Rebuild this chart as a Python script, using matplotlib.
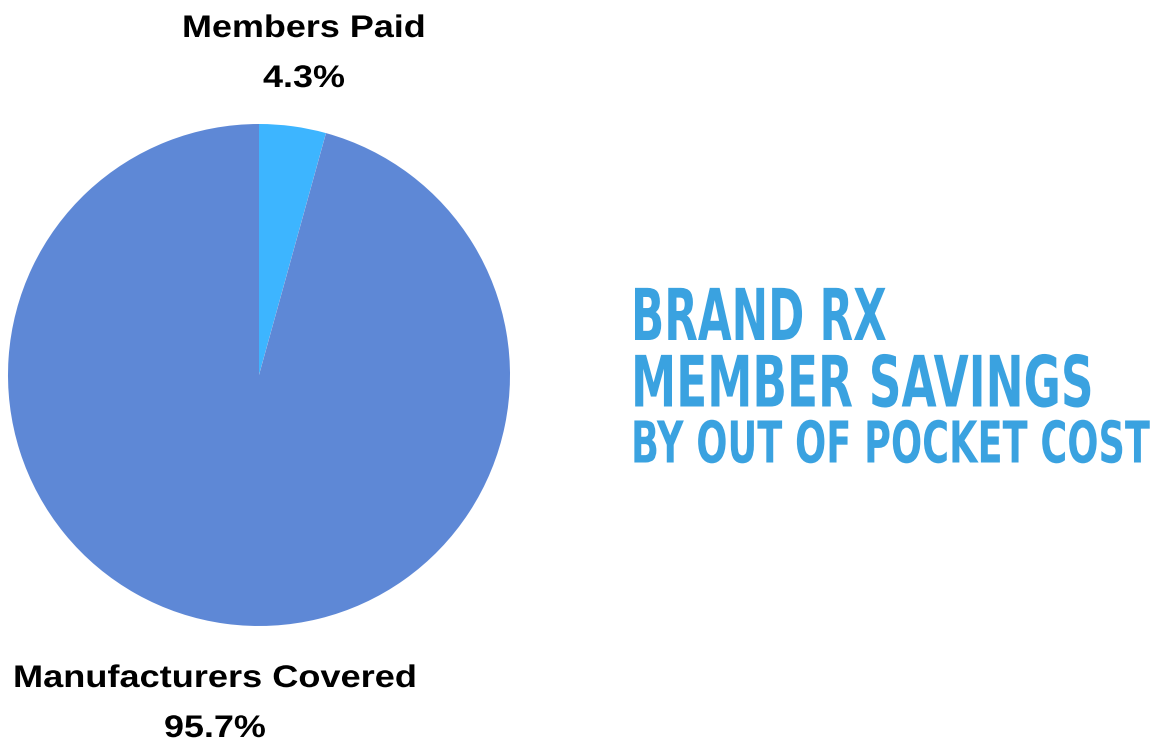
import matplotlib.pyplot as plt
from matplotlib import patheffects
from matplotlib.transforms import Affine2D

# Share of brand Rx out-of-pocket cost
labels = ['Members Paid', 'Manufacturers Covered']
values = [4.3, 95.7]
colors = ['#3db5ff', '#5e88d6']

title_lines = ['BRAND RX', 'MEMBER SAVINGS', 'BY OUT OF POCKET COST']


class Squeeze(patheffects.AbstractPathEffect):
    # scale text horizontally about x0 (display px)
    def __init__(self, sx, x0):
        super().__init__()
        self.sx = sx
        self.x0 = x0

    def draw_path(self, renderer, gc, tpath, affine, rgbFace=None):
        t = affine + Affine2D().translate(-self.x0, 0).scale(self.sx, 1).translate(self.x0, 0)
        renderer.draw_path(gc, tpath, t, rgbFace)


def fit_width(fig, txt, width_px):
    r = fig.canvas.get_renderer()
    bb = txt.get_window_extent(r)
    if txt.get_ha() == 'center':
        x0 = (bb.x0 + bb.x1) / 2
    else:
        x0 = bb.x0
    txt.set_path_effects([Squeeze(width_px / bb.width, x0)])


W, H = 1170, 740
fig = plt.figure(figsize=(W / 100, H / 100), dpi=100)

# pie axes: center (259, 375), radius 251 px
ax = fig.add_axes([(259 - 251) / W, (H - 375 - 251) / H, 502 / W, 502 / H])
ax.pie(values, colors=colors, startangle=90, counterclock=False,
       wedgeprops=dict(linewidth=0))
ax.set_xlim(-1, 1)
ax.set_ylim(-1, 1)
ax.set_aspect('equal')
ax.axis('off')

lab_font = dict(family=['Liberation Sans', 'DejaVu Sans'], fontweight='bold',
                fontsize=22.5, ha='center', va='baseline', color='black')
t1 = fig.text(304 / W, 1 - 37 / H, labels[0], **lab_font)
t2 = fig.text(304 / W, 1 - 87 / H, f'{values[0]}%', **lab_font)
t3 = fig.text(215 / W, 1 - 687 / H, labels[1], **lab_font)
t4 = fig.text(215 / W, 1 - 737 / H, f'{values[1]}%', **lab_font)

title_font = dict(family='DejaVu Sans', fontweight='bold',
                  color='#3aa2e0', ha='left', va='baseline')
h1 = fig.text(631 / W, 1 - 340 / H, title_lines[0], fontsize=51.5, **title_font)
h2 = fig.text(631 / W, 1 - 406.5 / H, title_lines[1], fontsize=51, **title_font)
h3 = fig.text(631 / W, 1 - 462.5 / H, title_lines[2], fontsize=41.5, **title_font)

fig.canvas.draw()
fit_width(fig, t1, 244)
fit_width(fig, t2, 82)
fit_width(fig, t3, 404)
fit_width(fig, t4, 102)
fit_width(fig, h1, 256)
fit_width(fig, h2, 463)
fit_width(fig, h3, 519)

plt.savefig('out.png', dpi=100)
